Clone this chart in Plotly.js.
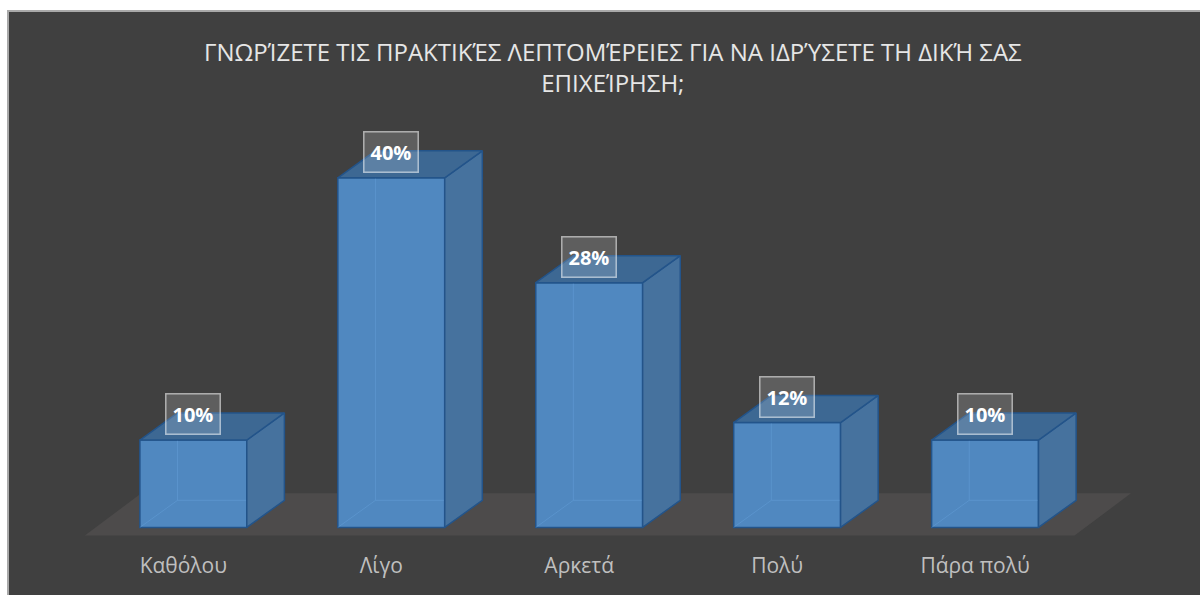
<!DOCTYPE html>
<html>
<head>
<meta charset="utf-8">
<script src="https://cdn.plot.ly/plotly-3.0.1.min.js"></script>
<style>
  body { margin: 0; background: #ffffff; }
  #frame { position: absolute; left: 7px; top: 10px; width: 1193px; height: 585px;
           border-left: 2px solid #a9a9a9; border-top: 2px solid #a9a9a9; }
  #chart { width: 1191px; height: 583px; }
</style>
</head>
<body>
<div id="frame"><div id="chart"></div></div>
<script>
// survey answers
var categories = ['Καθόλου', 'Λίγο', 'Αρκετά', 'Πολύ', 'Πάρα πολύ'];
var percents = [10, 40, 28, 12, 10];
var titleText = 'ΓΝΩΡΊΖΕΤΕ ΤΙΣ ΠΡΑΚΤΙΚΈΣ ΛΕΠΤΟΜΈΡΕΙΕΣ ΓΙΑ ΝΑ ΙΔΡΎΣΕΤΕ ΤΗ ΔΙΚΉ ΣΑΣ<br>ΕΠΙΧΕΊΡΗΣΗ;';

// fake 3d look
var barW = 0.54;      // front face width (category units)
var depthX = 0.19;    // side offset in x
var depthY = 3.1;     // side offset in y (percent units)

var frontCol = '#5088c0';
var sideCol = '#46729e';
var topCol = '#3d6893';
var edgeCol = '#23548a';

var idx = categories.map(function (c, i) { return i; });

var traces = [];

// front faces
traces.push({
    x: idx,
    y: percents,
    type: 'bar',
    width: barW,
    marker: { color: frontCol, line: { color: edgeCol, width: 1.5 } },
    hoverinfo: 'skip'
});

function poly(xs, ys, color) {
    return {
        x: xs.concat([xs[0]]),
        y: ys.concat([ys[0]]),
        type: 'scatter',
        mode: 'lines',
        fill: 'toself',
        fillcolor: color,
        line: { color: edgeCol, width: 1.5 },
        hoverinfo: 'skip'
    };
}

percents.forEach(function (v, i) {
    var l = i - barW / 2, r = i + barW / 2;
    // hidden back edges seen through the glassy front
    traces.push({
        x: [l, l + depthX, l + depthX, null, l + depthX, r + depthX],
        y: [0, depthY, v + depthY, null, depthY, depthY],
        type: 'scatter', mode: 'lines',
        line: { color: 'rgba(110,170,225,0.35)', width: 1 },
        hoverinfo: 'skip'
    });
    // right side face
    traces.push(poly([r, r + depthX, r + depthX, r], [0, depthY, v + depthY, v], sideCol));
    // top face
    traces.push(poly([l, r, r + depthX, l + depthX], [v, v, v + depthY, v + depthY], topCol));
});

var annotations = percents.map(function (v, i) {
    return {
        x: i, y: v, xref: 'x', yref: 'y',
        text: v + '%',
        showarrow: false,
        yshift: 26,
        font: { family: 'Open Sans', size: 20, color: '#ffffff', weight: 'bold' },
        bgcolor: 'rgba(255,255,255,0.16)',
        bordercolor: 'rgba(255,255,255,0.55)',
        borderwidth: 1.5,
        borderpad: 6
    };
});

// floor under the bars
var floorFront = -0.92, floorBack = 3.9;
var floorL = -0.548, floorR = 4.452, floorDX = 0.285;

var layout = {
    width: 1191,
    height: 583,
    paper_bgcolor: '#404040',
    plot_bgcolor: '#404040',
    margin: { l: 26, r: 17, t: 61, b: 37 },
    showlegend: false,
    title: {
        text: titleText,
        x: 0.507,
        xref: 'container',
        y: 0.916,
        yref: 'container',
        yanchor: 'top',
        font: { family: 'Open Sans', size: 24, color: '#e6e6e6' }
    },
    xaxis: {
        range: [-0.8, 5.0],
        tickvals: idx,
        ticktext: categories,
        showgrid: false,
        zeroline: false,
        showline: false,
        ticks: '',
        ticklabelstandoff: -7,
        ticklabelshift: -10,
        tickfont: { family: 'Open Sans', size: 21, color: '#bfbfbf' },
        fixedrange: true
    },
    yaxis: {
        range: [-3.5, 52],
        visible: false,
        fixedrange: true
    },
    shapes: [{
        type: 'path',
        xref: 'x', yref: 'y',
        layer: 'below',
        path: 'M ' + floorL + ',' + floorFront +
              ' L ' + floorR + ',' + floorFront +
              ' L ' + (floorR + floorDX) + ',' + floorBack +
              ' L ' + (floorL + floorDX) + ',' + floorBack + ' Z',
        fillcolor: '#4d4b4b',
        line: { width: 0 }
    }],
    annotations: annotations
};

Plotly.newPlot('chart', traces, layout, { displayModeBar: false, staticPlot: true });
</script>
</body>
</html>
